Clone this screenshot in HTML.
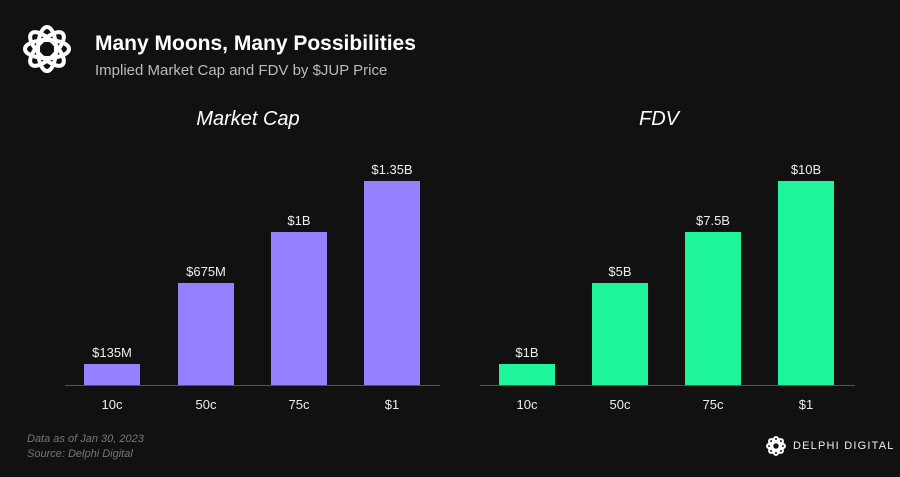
<!DOCTYPE html><html><head><style>
body{margin:0;background:#111111;width:900px;height:477px;overflow:hidden;position:relative;font-family:"Liberation Sans",sans-serif;color:#fff}
.a{position:absolute}
.b{position:absolute;width:56px}
.p{background:#9580ff}.g{background:#1ef59b}
.v,.x{position:absolute;width:100px;text-align:center;font-size:13px;color:#eee}
.t{position:absolute;font-style:italic;font-size:20px;text-align:center;width:200px}
</style></head><body>
<svg class="a" style="left:20px;top:22px" width="54" height="54" viewBox="0 0 54 54" fill="none" stroke="#fff" stroke-width="4">
<g transform="translate(27,27)">
<ellipse rx="9" ry="22" transform="rotate(0)"/>
<ellipse rx="9" ry="22" transform="rotate(45)"/>
<ellipse rx="9" ry="22" transform="rotate(90)"/>
<ellipse rx="9" ry="22" transform="rotate(135)"/>
</g></svg>
<div class="a" style="left:95px;top:32px;font-size:21px;font-weight:bold">Many Moons, Many Possibilities</div>
<div class="a" style="left:95px;top:62px;font-size:15px;color:#bbb">Implied Market Cap and FDV by $JUP Price</div>
<div class="t" style="left:148px;top:108px">Market Cap</div>
<div class="t" style="left:559px;top:108px">FDV</div>
<div class="a" style="left:65px;top:385px;width:375px;height:1px;background:#555"></div>
<div class="a" style="left:480px;top:385px;width:375px;height:1px;background:#555"></div>
<div class="b p" style="left:84px;top:364px;height:21px"></div>
<div class="b p" style="left:178px;top:283px;height:102px"></div>
<div class="b p" style="left:271px;top:232px;height:153px"></div>
<div class="b p" style="left:364px;top:181px;height:204px"></div>
<div class="b g" style="left:499px;top:364px;height:21px"></div>
<div class="b g" style="left:592px;top:283px;height:102px"></div>
<div class="b g" style="left:685px;top:232px;height:153px"></div>
<div class="b g" style="left:778px;top:181px;height:204px"></div>
<div class="v" style="left:62px;top:345px">$135M</div>
<div class="v" style="left:156px;top:264px">$675M</div>
<div class="v" style="left:249px;top:213px">$1B</div>
<div class="v" style="left:342px;top:162px">$1.35B</div>
<div class="v" style="left:477px;top:345px">$1B</div>
<div class="v" style="left:570px;top:264px">$5B</div>
<div class="v" style="left:663px;top:213px">$7.5B</div>
<div class="v" style="left:756px;top:162px">$10B</div>
<div class="x" style="left:62px;top:397px">10c</div>
<div class="x" style="left:156px;top:397px">50c</div>
<div class="x" style="left:249px;top:397px">75c</div>
<div class="x" style="left:342px;top:397px">$1</div>
<div class="x" style="left:477px;top:397px">10c</div>
<div class="x" style="left:570px;top:397px">50c</div>
<div class="x" style="left:663px;top:397px">75c</div>
<div class="x" style="left:756px;top:397px">$1</div>
<div class="a" style="left:27px;top:432px;font-size:11px;font-style:italic;color:#777;line-height:15px">Data as of Jan 30, 2023<br>Source: Delphi Digital</div>
<svg class="a" style="left:765px;top:435px" width="22" height="22" viewBox="0 0 54 54" fill="none" stroke="#fff" stroke-width="5"><g transform="translate(27,27)"><ellipse rx="9" ry="22"/><ellipse rx="9" ry="22" transform="rotate(45)"/><ellipse rx="9" ry="22" transform="rotate(90)"/><ellipse rx="9" ry="22" transform="rotate(135)"/></g></svg>
<div class="a" style="left:793px;top:440px;font-size:11px;letter-spacing:1.2px;color:#eee;white-space:nowrap">DELPHI DIGITAL</div>
</body></html>
